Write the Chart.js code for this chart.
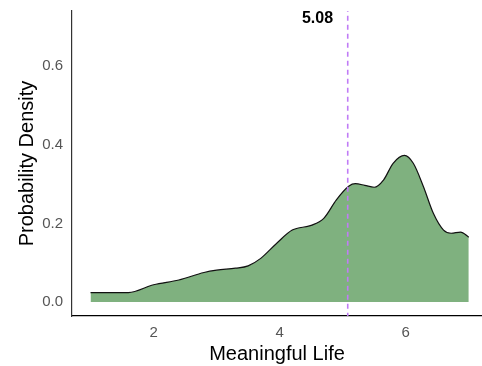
<!DOCTYPE html>
<html>
<head>
<meta charset="utf-8">
<script src="https://cdn.jsdelivr.net/npm/chart.js@4/dist/chart.umd.min.js"></script>
<style>
  body { margin: 0; background: #fff; }
  #wrap { width: 482px; height: 366px; }
</style>
</head>
<body>
<div id="wrap"><canvas id="densityChart"></canvas></div>
<script>
// density curve
const xValues = [1.0, 1.3, 1.6, 2.0, 2.4, 2.8, 3.0, 3.3, 3.5, 3.7, 3.95, 4.2, 4.5, 4.7, 4.9, 5.1, 5.2, 5.35, 5.5, 5.65, 5.8, 5.98, 6.12, 6.28, 6.44, 6.6, 6.72, 6.87, 7.0];
const densityValues = [0.024, 0.024, 0.024, 0.044, 0.056, 0.075, 0.081, 0.086, 0.092, 0.111, 0.149, 0.183, 0.195, 0.213, 0.260, 0.295, 0.301, 0.297, 0.292, 0.311, 0.353, 0.373, 0.353, 0.294, 0.225, 0.183, 0.175, 0.178, 0.165];

const meanValue = 5.08;
const meanLabel = '5.08';
const labelPos = [4.6, 0.72]; // where the mean label sits (x, y)

const xTicks = [2, 4, 6];
const yTicks = [0, 0.2, 0.4, 0.6];

const xRange = [0.706, 7.21];
const yRange = [-0.0356, 0.7405];

const points = xValues.map((x, i) => ({ x: x, y: densityValues[i] }));
const meanLine = [{ x: meanValue, y: yRange[0] - 0.05 }, { x: meanValue, y: yRange[1] + 0.05 }];

const labelPlugin = {
    id: 'meanLabel',
    afterDatasetsDraw(chart) {
        const ctx = chart.ctx;
        const px = chart.scales.x.getPixelForValue(labelPos[0]);
        const py = chart.scales.y.getPixelForValue(labelPos[1]);
        ctx.save();
        ctx.font = 'bold 16px "Liberation Sans", Arial, sans-serif';
        ctx.fillStyle = '#000';
        ctx.textAlign = 'center';
        ctx.textBaseline = 'middle';
        ctx.fillText(meanLabel, px, py);
        ctx.restore();
    }
};

const ctx = document.getElementById('densityChart').getContext('2d');
new Chart(ctx, {
    type: 'line',
    data: {
        datasets: [{
            // mean line first so it is drawn on top of the fill
            data: meanLine,
            borderColor: '#c07cf6',
            borderWidth: 1.6,
            borderDash: [5, 4],
            fill: false,
            pointRadius: 0
        }, {
            data: points,
            borderColor: '#111',
            borderWidth: 1.2,
            backgroundColor: 'rgba(0, 100, 0, 0.5)',
            fill: 'origin',
            pointRadius: 0,
            cubicInterpolationMode: 'monotone'
        }]
    },
    options: {
        responsive: true,
        maintainAspectRatio: false,
        animation: false,
        layout: { padding: { top: 11, right: 0, left: 0, bottom: 0 } },
        plugins: {
            legend: { display: false },
            tooltip: { enabled: false }
        },
        scales: {
            x: {
                type: 'linear',
                min: xRange[0],
                max: xRange[1],
                afterBuildTicks: scale => { scale.ticks = xTicks.map(v => ({ value: v })); },
                afterFit: scale => { scale.height = 50; scale.paddingRight = 0; },
                grid: { display: false, drawTicks: false },
                border: { display: true, color: '#000', width: 1.2 },
                ticks: {
                    padding: 8,
                    color: '#555',
                    font: { family: '"Liberation Sans", Arial, sans-serif', size: 15 }
                },
                title: {
                    display: true,
                    text: 'Meaningful Life',
                    color: '#000',
                    padding: { top: 0, bottom: 0 },
                    font: { family: '"Liberation Sans", Arial, sans-serif', size: 20 }
                }
            },
            y: {
                min: yRange[0],
                max: yRange[1],
                afterBuildTicks: scale => { scale.ticks = yTicks.map(v => ({ value: v })); },
                afterFit: scale => { scale.width = 72; scale.paddingTop = 0; scale.paddingBottom = 0; },
                grid: { display: false, drawTicks: false },
                border: { display: true, color: '#333', width: 1.2 },
                ticks: {
                    padding: 9,
                    color: '#555',
                    callback: v => v.toFixed(1),
                    font: { family: '"Liberation Sans", Arial, sans-serif', size: 15 }
                },
                title: {
                    display: true,
                    text: 'Probability Density',
                    color: '#000',
                    padding: { top: 15, bottom: 0 },
                    font: { family: '"Liberation Sans", Arial, sans-serif', size: 20 }
                }
            }
        }
    },
    plugins: [labelPlugin]
});
</script>
</body>
</html>
